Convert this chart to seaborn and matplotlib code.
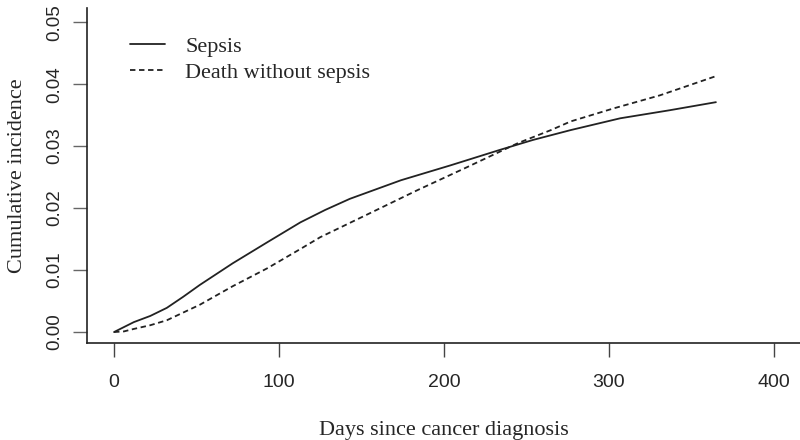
import numpy as np
import pandas as pd
import matplotlib
matplotlib.use("Agg")
import matplotlib.pyplot as plt
import seaborn as sns

# datos
dias_sepsis = [0, 12, 22, 32, 42, 52, 72, 93, 113, 128, 143, 174, 204, 234, 254, 277, 307, 337, 365]
inc_sepsis = [0.0, 0.0016, 0.0026, 0.0039, 0.0057, 0.0076, 0.0111, 0.0145, 0.0177, 0.0197, 0.0215,
              0.0245, 0.0269, 0.0294, 0.0310, 0.0326, 0.0345, 0.0358, 0.0371]

dias_muerte = [0, 6, 12, 22, 32, 52, 72, 93, 113, 125, 153, 184, 214, 245, 265, 277, 303, 331, 365]
inc_muerte = [0.0, 0.0001, 0.0005, 0.0011, 0.0019, 0.0044, 0.0074, 0.0103, 0.0134, 0.0153,
              0.0189, 0.0229, 0.0266, 0.0305, 0.0326, 0.0340, 0.0361, 0.0382, 0.0413]

etiquetas = ["Sepsis", "Death without sepsis"]
x_ticks = [0, 100, 200, 300, 400]
y_ticks = [0.00, 0.01, 0.02, 0.03, 0.04, 0.05]

df = pd.concat([
    pd.DataFrame({"dias": dias_sepsis, "inc": inc_sepsis, "evento": etiquetas[0]}),
    pd.DataFrame({"dias": dias_muerte, "inc": inc_muerte, "evento": etiquetas[1]}),
])

sns.set_style("ticks")
plt.rcParams["font.family"] = ["Liberation Serif", "DejaVu Serif"]

fig = plt.figure(figsize=(8, 4.4), dpi=100)
ax = fig.add_axes([87 / 800, 1 - 343 / 440, 713 / 800, 335 / 440])

sns.lineplot(data=df, x="dias", y="inc", style="evento", hue="evento",
             palette=["#222222", "#222222"], dashes=[(None, None), (3, 2)],
             linewidth=1.3, ax=ax, legend=True)

ax.set_xlim(-16.4, 416)
ax.set_ylim(-0.00177, 0.0523)
ax.set_xticks(x_ticks)
ax.set_yticks(y_ticks)
ax.set_xticklabels([str(v) for v in x_ticks], family="Liberation Sans", fontsize=14)
ax.set_yticklabels([f"{v:.2f}" for v in y_ticks], family="Liberation Sans", fontsize=13.5,
                   rotation=90, va="center")
ax.tick_params(axis="x", length=10, width=1, color="#444444", pad=12)
ax.tick_params(axis="y", length=10, width=1, color="#666666", pad=7)

for lado in ["top", "right"]:
    ax.spines[lado].set_visible(False)
for lado in ["left", "bottom"]:
    ax.spines[lado].set_color("#222222")
    ax.spines[lado].set_linewidth(1.2)

ax.set_xlabel("Days since cancer diagnosis", fontsize=16, labelpad=22)
ax.set_ylabel("Cumulative incidence", fontsize=16, labelpad=14)

ax.legend(title=None, frameon=False, loc="upper left", bbox_to_anchor=(0.06, 0.915),
          fontsize=16, handlelength=1.6, handletextpad=0.9, labelspacing=0.25,
          borderpad=0, borderaxespad=0)

fig.savefig("out.png", dpi=100)
